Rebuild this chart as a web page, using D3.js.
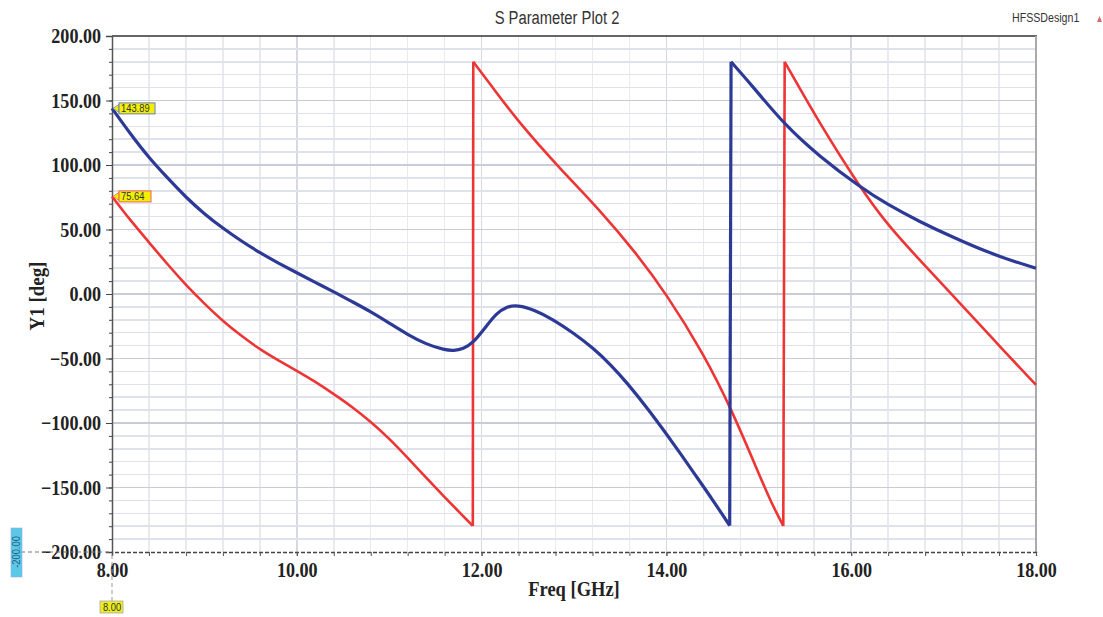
<!DOCTYPE html>
<html>
<head>
<meta charset="utf-8">
<title>S Parameter Plot 2</title>
<style>
  body { margin: 0; background: #fff; }
  .tick text { font-family: "Liberation Serif", "Times New Roman", serif; font-weight: bold; fill: #222; }
  .grid line { shape-rendering: crispEdges; }
</style>
</head>
<body>
<svg width="1103" height="617"></svg>
<script src="https://d3js.org/d3.v7.min.js"></script>
<script>
// blue trace (Y1 phase, deg)
const blueFreq = [8.0, 8.2, 8.39, 8.6, 8.806, 9.0, 9.2, 9.4, 9.61, 9.8, 10.0, 10.2, 10.4, 10.6, 10.8, 11.0, 11.2, 11.4, 11.6, 11.7, 11.8, 11.91,
                  12.05, 12.16, 12.27, 12.39, 12.575, 12.77, 13.0, 13.21, 13.4, 13.57, 13.8, 13.98, 14.15, 14.32, 14.5, 14.685,
                  14.70, 14.94, 15.28, 15.66, 16.09, 16.4, 16.74, 17.1, 17.46, 17.75, 18.0];
const blueDeg  = [143.89, 124, 106.4, 90, 74.5, 62, 50.9, 41, 31.5, 24, 16.5, 9, 1.8, -6, -13.7, -22.5, -31.5, -39, -43.4, -44, -42.5, -38,
                  -25, -15, -9.8, -8.5, -12.5, -19.5, -30.5, -42, -55, -68.5, -89, -106.5, -123.5, -141, -159.5, -179.5,
                  180, 160.5, 131, 106.4, 83.2, 69, 56.1, 44, 32.8, 25.5, 20];

// red trace
const redFreq = [8.0, 8.2, 8.39, 8.6, 8.806, 9.0, 9.2, 9.4, 9.61, 9.8, 10.0, 10.2, 10.4, 10.6, 10.8, 11.0, 11.2, 11.4, 11.6, 11.75, 11.905,
                 11.91, 12.1, 12.41, 12.845, 13.28, 13.675, 14.0, 14.4, 14.7, 15.01, 15.13, 15.265,
                 15.28, 15.66, 16.09, 16.4, 16.74, 17.28, 17.6, 18.0];
const redDeg  = [75.64, 57, 41, 23, 6.5, -7.5, -21, -32.5, -43.4, -51.5, -59.5, -68, -77.5, -87.5, -99, -112, -127, -142.5, -157.5, -168.5, -179.8,
                 180, 162, 132.3, 97.4, 65.1, 31.5, 0, -46, -88.6, -141, -161, -179.8,
                 180, 132, 83.2, 53, 26.4, -15, -40, -70.5];

const xMajor = [8, 10, 12, 14, 16, 18];
const yMajor = [-200, -150, -100, -50, 0, 50, 100, 150, 200];

const svg = d3.select("svg");
const pl = 112, pr = 1036, pt = 36, pb = 552;

const x = d3.scaleLinear().domain([8, 18]).range([pl, pr]);
const y = d3.scaleLinear().domain([-200, 200]).range([pb, pt]);

// squeeze text a little, the capture is narrower than the fonts here
function squeeze(sel, k) {
    sel.each(function() {
        const w = this.getComputedTextLength();
        d3.select(this).attr("textLength", w * k).attr("lengthAdjust", "spacingAndGlyphs");
    });
}

// grid
const xMinor = d3.range(8.4, 18, 0.4);
const yMinor = d3.range(-190, 200, 10);
const grid = svg.append("g").attr("class", "grid");
grid.selectAll(".vx").data(xMinor).join("line")
    .attr("x1", d => x(d)).attr("x2", d => x(d)).attr("y1", pt).attr("y2", pb)
    .attr("stroke", d => Math.abs(d / 2 - Math.round(d / 2)) < 0.01 ? "#d6d9e1" : "#e8eaef").attr("stroke-width", 1.5);
grid.selectAll(".hy").data(yMinor).join("line")
    .attr("x1", pl).attr("x2", pr).attr("y1", d => y(d)).attr("y2", d => y(d))
    .attr("stroke", d => d % 50 === 0 ? "#c9ccd7" : "#dfe2ea").attr("stroke-width", 1.5);

// frame
svg.append("line").attr("x1", pl).attr("x2", pr + 1).attr("y1", pt).attr("y2", pt)
    .attr("stroke", "#333").attr("stroke-width", 1.5);
svg.append("line").attr("x1", pr).attr("x2", pr).attr("y1", pt).attr("y2", pb)
    .attr("stroke", "#aaa").attr("stroke-width", 2);

// y axis
const yAxis = svg.append("g").attr("transform", `translate(${pl},0)`)
    .call(d3.axisLeft(y).tickValues(yMajor).tickFormat(d3.format(".2f")).tickSize(6).tickPadding(5));
yAxis.selectAll(".tick text").attr("font-size", 21);
squeeze(yAxis.selectAll(".tick text"), 0.86);
yAxis.select(".domain").attr("stroke", "#555").attr("stroke-width", 1.5);
yAxis.selectAll(".tick line").attr("stroke", "#444");
svg.append("g").attr("transform", `translate(${pl},0)`)
    .call(d3.axisLeft(y).tickValues(yMinor).tickFormat("").tickSize(3))
    .call(g => g.select(".domain").remove())
    .selectAll("line").attr("stroke", "#444");

// x axis
const xAxis = svg.append("g").attr("transform", `translate(0,${pb})`)
    .call(d3.axisBottom(x).tickValues(xMajor).tickFormat(d3.format(".2f")).tickSize(4).tickPadding(6));
xAxis.selectAll(".tick text").attr("font-size", 21);
squeeze(xAxis.selectAll(".tick text"), 0.86);
xAxis.select(".domain").attr("stroke", "#444").attr("stroke-width", 1.5).attr("stroke-dasharray", "4,2");
xAxis.selectAll(".tick line").attr("stroke", "#555");
svg.append("g").attr("transform", `translate(0,${pb})`)
    .call(d3.axisBottom(x).tickValues(xMinor).tickFormat("").tickSize(4))
    .call(g => g.select(".domain").remove())
    .selectAll("line").attr("stroke", "#555");

// axis titles
const xt = svg.append("text").attr("x", 574).attr("y", 596).attr("text-anchor", "middle")
    .attr("font-family", "Liberation Serif, serif").attr("font-weight", "bold").attr("font-size", 21)
    .attr("fill", "#222").text("Freq [GHz]");
squeeze(xt, 0.88);
const yt = svg.append("text").attr("transform", "translate(44,296) rotate(-90)").attr("text-anchor", "middle")
    .attr("font-family", "Liberation Serif, serif").attr("font-weight", "bold").attr("font-size", 21)
    .attr("fill", "#222").text("Y1 [deg]");
squeeze(yt, 0.9);

// title + design name
const title = svg.append("text").attr("x", 557).attr("y", 24).attr("text-anchor", "middle")
    .attr("font-family", "Liberation Sans, Arial, sans-serif").attr("font-size", 18).attr("fill", "#333")
    .text("S Parameter Plot 2");
squeeze(title, 0.82);
const design = svg.append("text").attr("x", 1012).attr("y", 22)
    .attr("font-family", "Liberation Sans, Arial, sans-serif").attr("font-size", 12.5).attr("fill", "#333")
    .text("HFSSDesign1");
squeeze(design, 0.85);
svg.append("path").attr("d", "M1097,22 L1099.5,16 L1102,22 Z").attr("fill", "#d46a6a");

// traces: split at the phase wraps, draw smooth pieces and the vertical jumps
function pieces(fr, dg) {
    const pts = fr.map((f, i) => [f, dg[i]]);
    const segs = [[pts[0]]], jumps = [];
    for (let i = 1; i < pts.length; i++) {
        if (Math.abs(pts[i][1] - pts[i - 1][1]) > 180) { jumps.push([pts[i - 1], pts[i]]); segs.push([]); }
        segs[segs.length - 1].push(pts[i]);
    }
    return { segs, jumps };
}
const smooth = d3.line().x(d => x(d[0])).y(d => y(d[1])).curve(d3.curveBasis);
const straight = d3.line().x(d => x(d[0])).y(d => y(d[1]));

function trace(fr, dg, color, w) {
    const p = pieces(fr, dg);
    const g = svg.append("g").attr("fill", "none").attr("stroke", color).attr("stroke-width", w)
        .attr("stroke-linejoin", "round");
    g.selectAll(".s").data(p.segs).join("path").attr("d", smooth);
    g.selectAll(".j").data(p.jumps).join("path").attr("d", straight);
}
trace(redFreq, redDeg, "#ee3535", 2.6);
trace(blueFreq, blueDeg, "#2c3a96", 3.2);

// marker flags at 8 GHz
function flag(v, border) {
    const px = x(8), py = y(v);
    const g = svg.append("g");
    g.append("path").attr("d", `M${px + 1},${py} L${px + 7},${py - 4} L${px + 7},${py + 4} Z`)
        .attr("fill", "#f2f000").attr("stroke", border).attr("stroke-width", 0.8);
    g.append("rect").attr("x", px + 7).attr("y", py - 5.5).attr("width", v > 100 ? 36 : 32).attr("height", 11)
        .attr("fill", "#f2f000").attr("stroke", border).attr("stroke-width", 1);
    const t = g.append("text").attr("x", px + 9).attr("y", py + 4)
        .attr("font-family", "Liberation Sans, Arial, sans-serif").attr("font-size", 11).attr("fill", "#333")
        .text(d3.format(".2f")(v));
    squeeze(t, 0.85);
}
flag(blueDeg[0], "#6a78c8");
flag(redDeg[0], "#f06060");

// cursor markers on the axes
svg.append("line").attr("x1", 14).attr("x2", pl).attr("y1", y(-200)).attr("y2", y(-200))
    .attr("stroke", "#777").attr("stroke-dasharray", "4,3");
svg.append("line").attr("x1", x(8)).attr("x2", x(8)).attr("y1", pb + 3).attr("y2", 601)
    .attr("stroke", "#999").attr("stroke-dasharray", "4,3");
svg.append("rect").attr("x", 11).attr("y", y(-200) - 24).attr("width", 11).attr("height", 49)
    .attr("fill", "#5cc8e8").attr("stroke", "#9ad").attr("stroke-width", 0.6);
const ml = svg.append("text").attr("transform", `translate(20,${y(-200)}) rotate(-90)`).attr("text-anchor", "middle")
    .attr("font-family", "Liberation Sans, Arial, sans-serif").attr("font-size", 11).attr("fill", "#1d5f80")
    .text("-200.00");
squeeze(ml, 0.85);
svg.append("rect").attr("x", x(8) - 12).attr("y", 601).attr("width", 23).attr("height", 12)
    .attr("fill", "#ecec22").attr("stroke", "#aaa").attr("stroke-width", 0.8);
const bl = svg.append("text").attr("x", x(8)).attr("y", 611).attr("text-anchor", "middle")
    .attr("font-family", "Liberation Sans, Arial, sans-serif").attr("font-size", 11).attr("fill", "#333")
    .text("8.00");
squeeze(bl, 0.85);
</script>
</body>
</html>
